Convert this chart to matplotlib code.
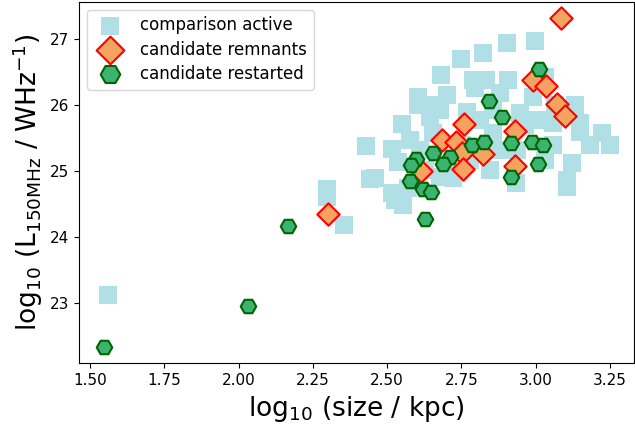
import matplotlib
matplotlib.use("Agg")
import matplotlib.pyplot as plt

# comparison sample of active sources: log10 size (kpc), log10 L150MHz (W/Hz)
active_size = [1.561, 2.298, 2.298, 2.355, 2.429, 2.442, 2.516, 2.516, 2.537, 2.554,
               2.550, 2.604, 2.604, 2.644, 2.644, 2.681, 2.702, 2.749, 2.823, 2.904,
               2.998, 2.789, 2.833, 2.907, 3.031, 2.796, 2.880, 2.991, 3.132, 3.149,
               3.005, 2.856, 2.947, 2.769, 3.058, 2.846, 2.934, 3.122, 3.106, 3.106,
               3.183, 3.250, 3.149, 3.223, 2.722, 2.678, 2.655, 2.856, 2.937, 3.058,
               2.752, 2.702, 2.611, 2.570, 2.779, 2.880, 2.964, 3.065, 2.678, 2.813,
               2.577, 2.628, 3.031, 2.527, 2.459]
active_lum = [23.12, 24.73, 24.60, 24.18, 25.38, 24.88, 25.33, 24.66, 25.14, 24.48,
              25.71, 26.12, 26.00, 26.00, 25.82, 26.46, 26.15, 26.70, 26.79, 26.94,
              26.97, 26.38, 26.38, 26.38, 26.42, 26.26, 26.18, 26.12, 26.00, 25.73,
              25.77, 25.92, 25.88, 25.89, 25.73, 25.01, 24.82, 25.12, 24.86, 24.76,
              25.39, 25.39, 25.59, 25.58, 24.89, 24.91, 25.58, 25.58, 25.32, 25.39,
              25.39, 25.09, 25.32, 24.74, 25.17, 25.32, 25.70, 26.00, 25.92, 25.77,
              25.47, 25.01, 25.17, 24.56, 24.89]

# candidate remnant sources
remnant_size = [3.085, 2.991, 3.035, 3.072, 3.099, 2.759, 2.930, 2.685, 2.732, 2.752,
                2.823, 2.755, 2.930, 2.614, 2.301]
remnant_lum = [27.32, 26.38, 26.29, 26.02, 25.83, 25.71, 25.61, 25.47, 25.44, 25.27,
               25.26, 25.03, 25.07, 25.00, 24.35]

# candidate restarted sources
restarted_size = [1.547, 2.032, 2.166, 3.011, 2.843, 2.887, 2.786, 2.826, 2.917, 2.988,
                  3.025, 3.008, 2.917, 2.655, 2.712, 2.688, 2.597, 2.580, 2.577, 2.621,
                  2.648, 2.628]
restarted_lum = [22.33, 22.95, 24.16, 26.55, 26.06, 25.82, 25.39, 25.44, 25.42, 25.44,
                 25.39, 25.10, 24.91, 25.27, 25.21, 25.10, 25.18, 25.09, 24.85, 24.73,
                 24.68, 24.27]

fig = plt.figure(figsize=(6.35, 4.29), dpi=100)
ax = fig.add_axes([0.1249, 0.1531, 0.8735, 0.8422])

ax.scatter(active_size, active_lum, marker="s", s=168, color="powderblue",
           linewidths=0, label="comparison active", zorder=1)
ax.scatter(remnant_size, remnant_lum, marker="D", s=130, facecolor="sandybrown",
           edgecolor="red", linewidths=1.5, label="candidate remnants", zorder=2)
ax.scatter(restarted_size, restarted_lum, marker="H", s=125, facecolor="mediumseagreen",
           edgecolor="darkgreen", linewidths=1.5, label="candidate restarted", zorder=3)

ax.set_xlim(1.464, 3.331)
ax.set_ylim(22.08, 27.56)
ax.set_xticks([1.50, 1.75, 2.00, 2.25, 2.50, 2.75, 3.00, 3.25])
ax.set_yticks([23, 24, 25, 26, 27])
ax.tick_params(labelsize=11)

ax.set_xlabel(r"log$_{10}$ (size / kpc)", fontsize=19)
ax.set_ylabel(r"log$_{10}$ (L$_{\rm 150MHz}$ / WHz$^{-1}$)", fontsize=19)

leg = ax.legend(loc="upper left", fontsize=12, scatterpoints=1,
                borderaxespad=0.45, labelspacing=0.38)
for h, sz in zip(leg.legend_handles, [168, 200, 200]):
    h.set_sizes([sz])

fig.savefig("out.png", dpi=100)
